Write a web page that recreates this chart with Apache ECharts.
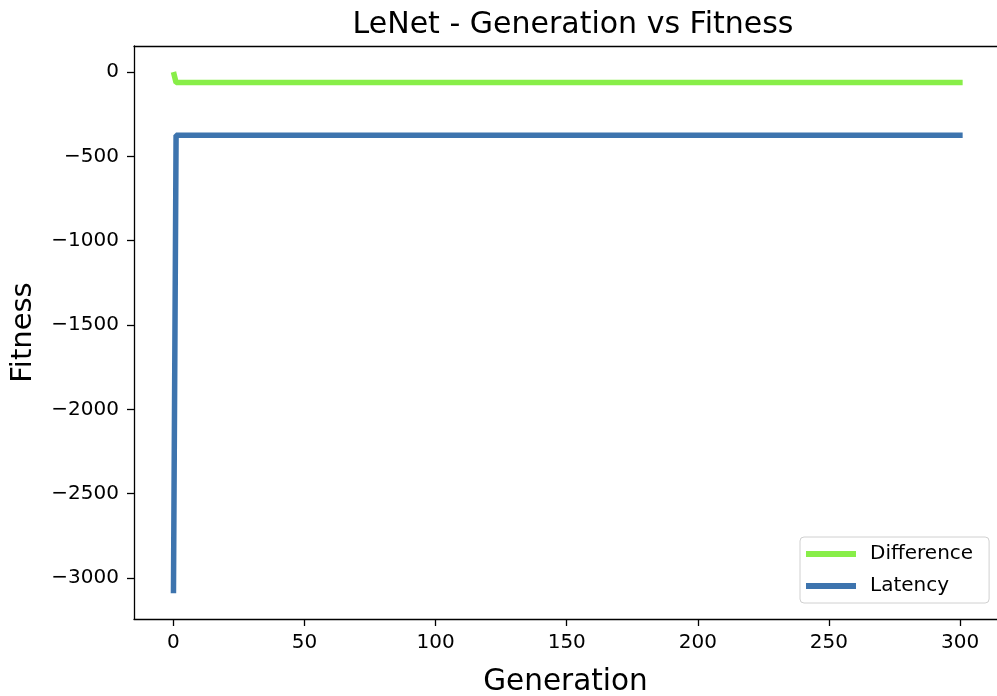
<!DOCTYPE html>
<html>
<head>
<meta charset="utf-8">
<script src="https://cdn.jsdelivr.net/npm/echarts@6/dist/echarts.min.js"></script>
<style>
  html, body { margin: 0; padding: 0; background: #fff; overflow: hidden; }
  #chart { width: 997px; height: 696px; }
</style>
</head>
<body>
<div id="chart"></div>
<script>
// generation -> fitness, flat after gen 1
const diffPoints = [[0, 0], [1, -63], [301, -63]];
const latencyPoints = [[0, -3090], [1, -375], [301, -375]];
const xTicks = [0, 50, 100, 150, 200, 250, 300];
const yTicks = [-3000, -2500, -2000, -1500, -1000, -500, 0];

const font = 'DejaVu Sans';
const spine = { color: '#000', width: 1.3 };
const chart = echarts.init(document.getElementById('chart'));

const option = {
  animation: false,
  backgroundColor: '#fff',
  title: {
    text: 'LeNet - Generation vs Fitness',
    left: 568, top: 5, textAlign: 'center',
    textStyle: { fontFamily: font, fontSize: 30, fontWeight: 'normal', color: '#000' }
  },
  legend: {
    orient: 'vertical',
    left: 800, top: 537,
    padding: [7, 14, 7, 6],
    icon: 'rect',
    itemWidth: 50, itemHeight: 6, itemGap: 12,
    backgroundColor: '#fff',
    borderColor: '#d0d0d0', borderWidth: 1, borderRadius: 4,
    textStyle: { fontFamily: font, fontSize: 20, lineHeight: 20, color: '#000', padding: [0, 2, 0, 9] },
    data: ['Difference', 'Latency']
  },
  // the plot runs past the right edge of the picture, so the x range is cut at the edge
  grid: { left: 134, top: 46, right: 0, bottom: 77, outerBoundsMode: 'none' },
  xAxis: [
    {
      type: 'value', min: -15.05, max: 314.1,
      name: 'Generation', nameLocation: 'middle', nameGap: 48,
      nameTextStyle: { fontFamily: font, fontSize: 29.5, color: '#000' },
      axisLine: { show: true, onZero: false, lineStyle: spine },
      axisTick: { show: true, length: 7, lineStyle: spine, customValues: xTicks },
      axisLabel: { fontFamily: font, fontSize: 20, color: '#000', margin: 14, customValues: xTicks },
      splitLine: { show: false }
    },
    {
      type: 'value', position: 'top', min: -15.05, max: 314.1,
      axisLine: { show: true, onZero: false, lineStyle: spine },
      axisTick: { show: false }, axisLabel: { show: false }, splitLine: { show: false }
    }
  ],
  yAxis: {
    type: 'value', min: -3243, max: 154,
    name: 'Fitness', nameLocation: 'middle', nameGap: 96,
    nameTextStyle: { fontFamily: font, fontSize: 29, color: '#000' },
    axisLine: { show: true, onZero: false, lineStyle: spine },
    axisTick: { show: true, length: 7, lineStyle: spine, customValues: yTicks },
    axisLabel: {
      fontFamily: font, fontSize: 20, color: '#000', margin: 15, customValues: yTicks,
      formatter: v => String(v).replace('-', '\u2212')
    },
    splitLine: { show: false }
  },
  series: [
    {
      name: 'Difference', type: 'line', data: diffPoints,
      symbol: 'none', color: '#88ee48',
      lineStyle: { width: 5.5, color: '#88ee48' }
    },
    {
      name: 'Latency', type: 'line', data: latencyPoints,
      symbol: 'none', color: '#3d74ae',
      lineStyle: { width: 5.5, color: '#3d74ae' }
    }
  ]
};
chart.setOption(option);
</script>
</body>
</html>
